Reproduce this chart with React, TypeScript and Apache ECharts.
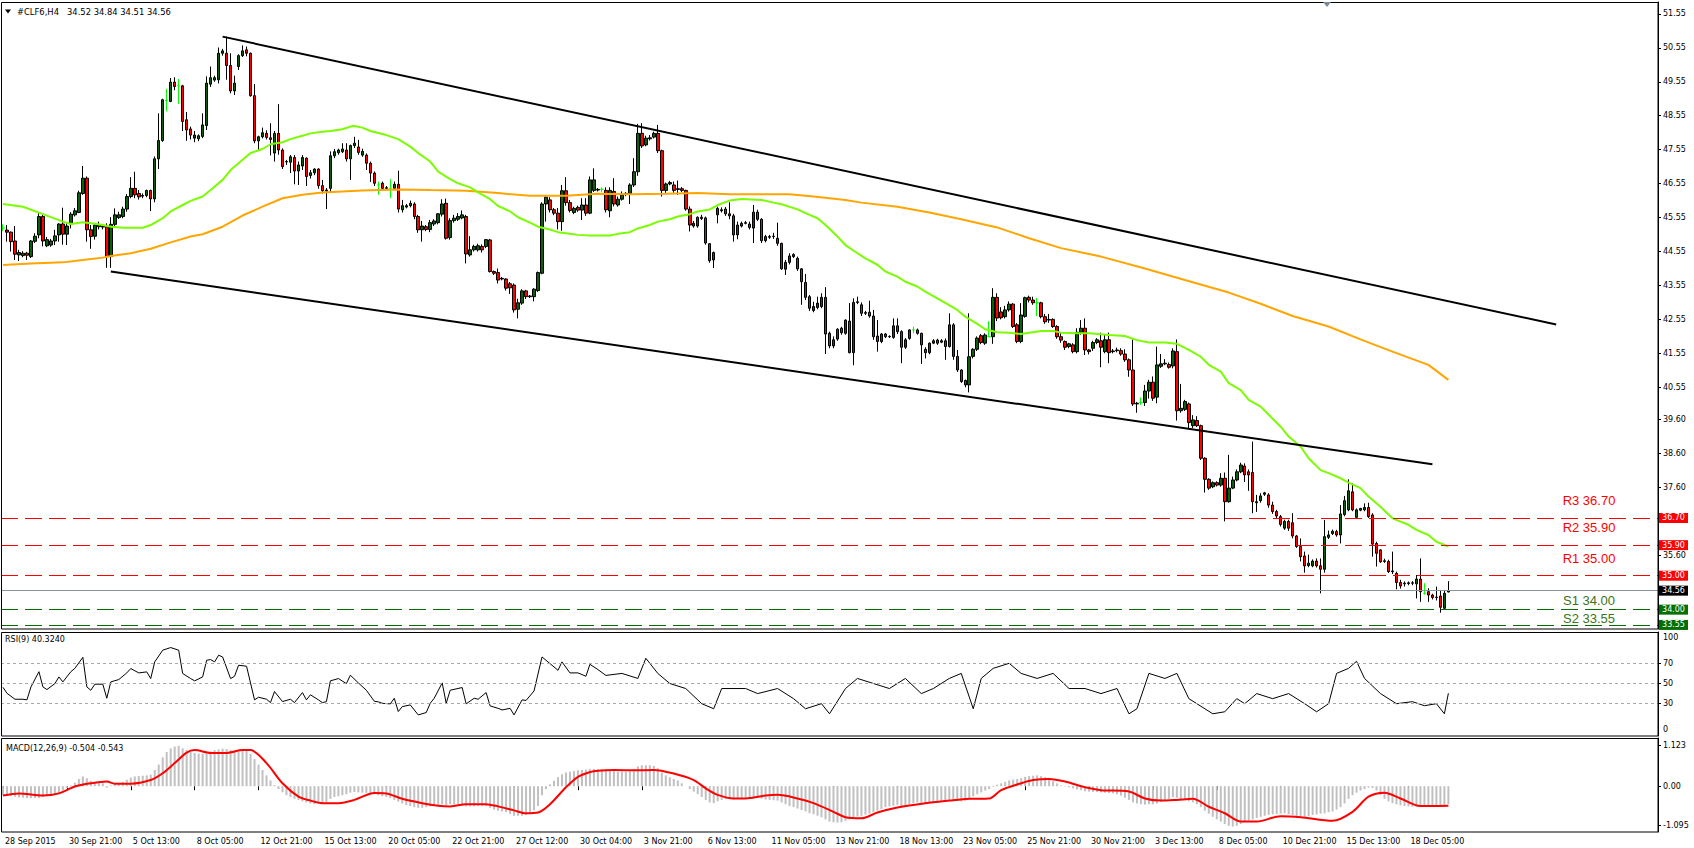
import React, { useEffect, useRef } from 'react';
import * as echarts from 'echarts';

const SLOT_COUNT = 415;
const LABEL_STEP = 16;

const timeLabels = ['28 Sep 2015', '30 Sep 21:00', '5 Oct 13:00', '8 Oct 05:00', '12 Oct 21:00', '15 Oct 13:00', '20 Oct 05:00', '22 Oct 21:00', '27 Oct 12:00', '30 Oct 04:00', '3 Nov 21:00', '6 Nov 13:00', '11 Nov 05:00', '13 Nov 21:00', '18 Nov 13:00', '23 Nov 05:00', '25 Nov 21:00', '30 Nov 21:00', '3 Dec 13:00', '8 Dec 05:00', '10 Dec 21:00', '15 Dec 13:00', '18 Dec 05:00'];

// [open, close, low, high]
const candles: number[][] = [
  [45.24,45.24,45.15,45.35],[45.18,45.12,44.84,45.33],[45.12,44.84,44.55,45.14],[44.86,44.47,44.30,45.30],[44.45,44.52,44.27,44.60],[44.43,44.50,44.38,44.56],[44.50,44.44,44.30,44.54],[44.40,44.86,44.36,44.89],[44.85,45.00,44.80,45.09],[45.04,45.58,44.94,45.68],
  [45.58,44.86,44.70,45.63],[44.72,44.90,44.68,44.98],[44.74,44.86,44.69,44.92],[44.86,45.01,44.74,45.19],[45.04,45.36,44.84,45.38],[45.36,45.06,44.75,45.84],[45.06,45.30,44.74,45.38],[45.36,45.65,45.23,45.71],[45.63,45.75,45.58,45.83],[45.70,46.28,45.68,46.34],
  [46.26,46.71,46.22,47.07],[46.71,45.19,44.84,46.76],[45.19,44.99,44.63,45.33],[45.00,45.33,44.90,45.38],[45.28,45.33,45.20,45.43],[45.30,45.27,45.20,45.36],[45.28,44.40,44.07,45.38],[44.40,45.35,44.07,45.56],[45.35,45.63,45.28,45.82],[45.55,45.63,45.51,45.72],
  [45.58,45.80,45.53,45.87],[45.80,46.17,45.72,46.24],[46.17,46.41,46.12,46.74],[46.41,46.22,46.12,46.90],[46.26,46.16,46.08,46.36],[46.18,46.20,46.12,46.26],[46.20,46.35,46.15,46.37],[46.35,46.10,45.74,46.37],[46.10,47.28,46.00,47.35],[47.28,47.82,46.98,48.62],
  [47.82,49.02,47.78,49.05],[49.00,49.00,48.68,49.34],[48.97,49.54,48.95,49.66],[49.54,49.41,49.30,49.68],[49.43,49.43,48.90,49.63],[49.43,48.38,48.10,49.46],[48.43,48.13,47.81,48.66],[48.16,47.98,47.85,48.23],[47.89,47.98,47.77,48.10],[47.87,47.96,47.80,48.00],
  [47.94,48.28,47.89,48.62],[48.26,49.51,48.13,49.71],[49.48,49.67,49.40,50.00],[49.60,49.67,49.55,49.73],[49.61,50.39,49.50,50.56],[50.39,50.46,50.32,50.52],[50.39,50.03,49.61,50.88],[50.03,49.28,49.21,50.39],[49.28,49.51,49.16,49.73],[50.00,50.32,49.90,50.36],
  [50.32,50.46,50.28,50.62],[50.49,50.39,50.30,50.59],[50.39,49.14,49.11,50.41],[49.14,47.81,47.74,49.48],[47.81,47.93,47.54,47.96],[47.93,48.05,47.88,48.20],[48.03,47.91,47.85,48.12],[47.90,47.85,47.38,48.33],[47.45,48.03,47.20,48.10],[48.03,47.54,47.40,48.89],
  [47.54,47.05,46.98,47.59],[47.19,47.20,47.10,47.25],[47.18,47.34,46.86,47.39],[47.32,46.92,46.53,47.39],[46.92,47.10,46.51,47.20],[47.07,47.32,46.95,47.39],[47.30,46.76,46.48,47.32],[46.79,46.87,46.70,46.95],[46.87,46.98,46.80,47.00],[46.98,46.49,46.40,47.00],
  [46.49,46.34,46.26,46.66],[46.36,46.33,45.80,46.42],[46.41,47.37,46.30,47.50],[47.37,47.49,47.30,47.57],[47.46,47.54,47.40,47.58],[47.49,47.57,47.45,47.74],[47.54,47.28,47.20,47.74],[47.28,47.67,46.66,47.70],[47.67,47.74,47.60,47.93],[47.63,47.47,47.40,47.84],
  [47.39,47.50,47.34,47.58],[47.39,47.15,46.95,47.44],[47.15,46.86,46.60,47.20],[46.86,46.56,46.48,46.91],[46.51,46.51,46.22,46.61],[46.56,46.41,46.35,46.61],[46.41,46.43,46.36,46.48],[46.41,46.41,46.12,46.68],[46.41,46.53,46.36,46.61],[46.53,45.80,45.70,46.93],
  [45.78,45.90,45.70,46.07],[45.86,45.90,45.82,45.95],[45.90,45.97,45.85,46.05],[45.95,45.58,45.50,46.00],[45.58,45.19,45.10,45.63],[45.19,45.30,44.84,45.45],[45.28,45.20,45.15,45.33],[45.20,45.40,45.12,45.48],[45.36,45.45,45.30,45.50],[45.40,45.66,45.35,45.68],
  [45.65,45.95,45.58,46.09],[45.97,44.94,44.90,46.11],[44.96,45.46,44.90,45.53],[45.46,45.53,45.40,45.63],[45.50,45.58,45.45,45.68],[45.54,45.63,45.50,45.76],[45.58,44.48,44.20,45.63],[44.45,44.60,44.40,45.00],[44.60,44.70,44.55,44.75],[44.60,44.72,44.55,44.78],
  [44.70,44.60,44.52,44.76],[44.70,44.90,44.65,44.92],[44.89,43.96,43.93,44.92],[43.96,43.91,43.86,43.99],[43.93,43.71,43.61,44.05],[43.74,43.76,43.70,43.80],[43.74,43.47,43.40,43.76],[43.60,43.48,43.30,43.65],[43.56,42.83,42.75,43.61],[42.85,43.04,42.58,43.16],
  [43.03,43.39,42.98,43.44],[43.39,43.22,43.15,43.42],[43.22,43.24,43.18,43.27],[43.22,43.44,43.08,43.47],[43.40,43.93,43.36,43.96],[43.91,45.95,43.88,46.00],[45.95,46.15,45.43,46.19],[46.07,45.78,45.70,46.15],[45.78,45.68,45.62,45.83],[45.68,45.43,45.20,45.83],
  [45.43,46.34,45.16,46.51],[46.34,45.99,45.90,46.74],[45.99,45.76,45.70,46.07],[45.70,45.82,45.65,45.87],[45.85,45.77,45.72,45.90],[45.77,45.92,45.48,46.12],[45.92,45.68,45.60,46.12],[45.68,46.66,45.65,46.76],[46.35,46.66,46.30,47.00],[46.36,46.38,46.32,46.42],
  [46.38,46.38,46.30,46.44],[46.35,45.78,45.70,46.44],[45.75,46.35,45.56,46.44],[46.32,45.95,45.88,46.71],[45.92,46.09,45.87,46.17],[46.09,46.22,46.05,46.32],[46.24,46.26,46.18,46.30],[46.26,46.51,45.95,46.56],[46.51,46.90,46.45,47.30],[46.90,48.03,46.78,48.31],
  [48.03,47.66,47.60,48.33],[47.69,47.89,47.65,47.96],[47.87,47.90,47.82,47.98],[47.92,48.03,47.88,48.08],[48.03,47.52,47.45,48.28],[47.52,46.35,46.17,47.55],[46.35,46.54,46.28,46.58],[46.54,46.58,46.50,46.63],[46.51,46.35,46.28,46.61],[46.38,46.40,46.22,46.64],
  [46.40,46.35,46.30,46.45],[46.35,45.80,45.75,46.37],[45.80,45.33,45.14,45.88],[45.30,45.38,45.25,45.45],[45.30,45.56,45.25,45.58],[45.52,45.56,45.48,45.63],[45.54,44.80,44.75,45.58],[44.78,44.28,44.22,44.80],[44.30,44.52,44.06,44.55],[45.63,45.82,45.38,45.87],
  [45.75,45.78,45.70,45.85],[45.80,45.66,45.60,45.86],[45.66,45.60,45.50,46.00],[45.60,45.04,44.84,45.66],[45.04,45.33,44.91,45.43],[45.30,45.38,45.26,45.43],[45.38,45.40,45.35,45.45],[45.36,45.26,45.20,45.43],[45.24,45.71,44.80,45.92],[45.71,45.50,45.45,45.78],
  [45.50,44.87,44.80,45.53],[44.87,44.99,44.82,45.04],[44.97,44.99,44.92,45.04],[44.99,45.00,44.92,45.10],[44.94,44.79,44.72,45.40],[44.79,44.04,44.01,44.81],[44.03,44.23,43.86,44.30],[44.23,44.42,44.17,44.50],[44.40,44.46,44.36,44.50],[44.35,44.04,43.98,44.40],
  [44.04,43.66,42.98,44.06],[43.64,43.20,43.12,43.89],[43.22,42.88,42.80,43.27],[42.81,42.93,42.76,43.07],[42.90,43.03,42.85,43.22],[42.93,43.20,42.88,43.32],[43.20,42.12,41.53,43.50],[42.14,41.77,41.70,42.19],[41.77,41.95,41.70,42.05],[41.97,42.26,41.92,42.29],
  [42.29,42.16,42.10,42.33],[42.14,42.53,42.10,42.55],[42.50,41.57,41.55,43.03],[41.57,43.05,41.20,43.17],[43.05,43.07,43.00,43.22],[42.98,42.73,42.65,43.05],[42.73,42.75,42.68,42.80],[42.76,42.65,42.60,43.10],[42.65,42.04,41.95,42.83],[42.06,41.90,41.60,42.53],
  [41.90,42.12,41.85,42.15],[42.12,42.04,42.00,42.15],[42.04,42.05,42.00,42.08],[42.02,42.36,41.98,42.58],[42.36,42.19,42.12,42.58],[42.19,41.73,41.26,42.23],[41.73,41.95,41.68,42.00],[41.99,42.24,41.95,42.26],[42.24,42.24,42.14,42.34],[42.24,42.14,42.10,42.28],
  [42.14,41.80,41.24,42.16],[41.67,41.57,41.40,41.73],[41.57,41.85,41.52,41.87],[41.85,41.92,41.82,41.97],[41.94,41.85,41.80,41.98],[41.88,41.92,41.85,41.97],[41.92,41.75,41.36,41.99],[41.75,42.39,41.72,42.73],[42.39,41.46,41.36,42.44],[41.46,41.06,41.00,41.65],
  [41.06,40.72,40.68,41.08],[40.75,40.62,40.55,40.78],[40.62,41.45,40.40,42.73],[41.46,41.67,41.40,41.70],[41.67,42.00,41.62,42.05],[42.07,41.87,41.82,42.12],[41.85,42.09,41.80,42.14],[42.04,42.04,42.04,42.50],[42.04,43.20,41.83,43.47],[43.20,42.59,42.50,43.32],
  [42.77,42.60,42.55,42.91],[42.63,42.83,42.58,42.95],[42.83,43.00,42.78,43.08],[43.00,42.34,42.30,43.03],[42.39,41.90,41.85,42.44],[41.90,42.68,41.85,43.03],[42.64,43.19,42.60,43.22],[43.20,43.12,43.05,43.25],[43.12,43.04,42.98,43.22],[43.04,43.04,42.65,43.18],
  [43.04,42.63,42.58,43.07],[42.63,42.48,42.42,42.71],[42.53,42.55,42.45,42.71],[42.55,42.34,42.30,42.58],[42.34,42.04,41.98,42.38],[42.04,41.94,41.86,42.14],[41.90,41.73,41.65,41.93],[41.75,41.83,41.70,41.86],[41.80,41.60,41.55,41.85],[41.60,42.17,41.55,42.29],
  [42.17,42.29,42.10,42.53],[42.29,41.65,41.50,42.58],[41.65,41.60,41.52,41.68],[41.70,41.87,41.62,41.92],[41.87,41.95,41.82,42.00],[41.92,41.73,41.14,42.16],[41.60,41.95,41.55,42.10],[41.95,41.57,41.26,42.16],[41.60,41.62,41.55,41.68],[41.63,41.65,41.58,41.72],
  [41.63,41.53,41.48,41.70],[41.53,41.36,41.30,41.67],[41.36,41.06,40.86,41.40],[41.06,40.06,40.00,41.96],[40.06,40.08,39.80,40.12],[40.10,40.10,40.03,40.25],[40.10,40.44,40.00,40.62],[40.44,40.70,40.22,40.77],[40.70,40.23,40.15,40.87],[40.26,41.21,40.08,41.75],
  [41.17,41.24,41.12,41.53],[41.24,41.26,41.20,41.38],[41.22,41.14,41.10,41.28],[41.18,41.62,41.11,41.70],[41.60,39.86,39.57,41.96],[39.86,39.93,39.80,40.65],[39.90,40.13,39.85,40.18],[40.06,39.51,39.34,40.10],[39.42,39.59,39.35,39.73],[39.57,39.42,39.38,39.70],
  [39.42,38.46,38.41,39.45],[38.46,37.84,37.45,38.49],[37.84,37.58,37.53,37.87],[37.62,37.74,37.58,37.78],[37.74,37.67,37.63,37.78],[37.67,37.87,37.62,38.02],[37.87,37.18,36.60,38.04],[37.18,37.58,37.15,38.56],[37.58,37.82,37.55,37.92],[37.82,38.06,37.78,38.13],
  [38.06,38.26,38.02,38.33],[38.23,37.97,37.76,38.31],[38.06,37.97,37.50,38.13],[38.04,37.18,36.84,38.95],[37.18,37.15,36.88,37.38],[37.21,37.35,37.15,37.43],[37.40,37.44,37.35,37.47],[37.38,37.08,37.00,37.43],[37.08,36.89,36.82,37.18],[36.89,36.76,36.70,36.94],
  [36.74,36.51,36.45,36.79],[36.40,36.60,36.35,36.65],[36.60,36.40,36.32,36.65],[36.56,36.17,36.10,36.84],[36.17,35.86,35.82,36.20],[35.86,35.56,35.42,36.10],[35.58,35.29,35.09,35.71],[35.30,35.37,35.25,35.62],[35.29,35.43,35.25,35.48],[35.43,35.29,35.24,35.51],
  [35.29,35.19,34.48,35.51],[35.19,36.15,35.09,36.64],[36.13,36.20,36.08,36.33],[36.24,36.31,36.20,36.36],[36.30,36.20,36.15,36.35],[36.20,36.82,35.95,37.08],[36.80,37.21,36.75,37.35],[36.94,37.50,36.90,37.84],[37.47,36.94,36.90,37.72],[36.72,36.94,36.68,36.98],
  [36.93,36.98,36.90,37.00],[36.94,37.01,36.90,37.13],[37.01,36.74,36.70,37.15],[36.79,35.93,35.56,36.84],[35.95,35.66,35.27,36.00],[35.76,35.41,35.38,35.78],[35.42,35.44,35.38,35.50],[35.42,35.12,35.08,35.47],[35.12,35.14,35.05,35.71],[35.07,34.80,34.60,35.12],
  [34.80,34.70,34.62,34.88],[34.76,34.78,34.68,34.83],[34.77,34.79,34.72,34.83],[34.78,34.79,34.72,34.84],[34.76,34.90,34.33,35.02],[34.90,34.53,34.23,35.51],[34.48,34.48,34.44,34.78],[34.53,34.43,34.23,34.63],[34.43,34.36,34.30,34.47],[34.36,34.37,34.27,34.68],
  [34.40,34.07,33.91,34.58],[34.04,34.48,34.01,34.58],[34.52,34.56,34.51,34.84]
];

// moving averages: [candle index, price]
const maGreen: number[][] = [
  [0,45.95],[5,45.87],[10,45.65],[15,45.43],[17,45.36],[20,45.41],[22,45.38],[25,45.33],[27,45.28],[30,45.25],[35,45.25],[37,45.33],[40,45.53],[42,45.73],[45,45.92],[47,46.04],[50,46.17],[52,46.36],[55,46.66],[57,46.95],[60,47.25],[62,47.45],[65,47.57],[67,47.71],[70,47.77],[72,47.86],[75,47.96],[77,48.03],[80,48.08],[82,48.10],[85,48.15],[87,48.23],[88,48.25],[90,48.20],[92,48.10],[96,47.98],[99,47.86],[102,47.64],[104,47.45],[107,47.20],[109,46.90],[112,46.68],[114,46.56],[117,46.44],[119,46.29],[122,46.09],[124,45.89],[127,45.73],[129,45.56],[132,45.40],[134,45.28],[137,45.20],[139,45.12],[142,45.07],[144,45.04],[147,45.02],[152,45.02],[154,45.07],[157,45.12],[159,45.23],[162,45.33],[164,45.43],[167,45.50],[169,45.58],[172,45.65],[174,45.73],[177,45.79],[179,45.92],[182,46.05],[185,46.10],[190,46.07],[193,45.99],[195,45.94],[199,45.79],[201,45.68],[204,45.53],[206,45.33],[209,44.99],[211,44.74],[214,44.50],[216,44.35],[219,44.16],[221,43.96],[224,43.81],[226,43.66],[229,43.52],[231,43.37],[234,43.17],[236,43.04],[239,42.83],[241,42.63],[244,42.42],[246,42.26],[249,42.17],[252,42.16],[255,42.12],[257,42.16],[260,42.21],[263,42.21],[265,42.16],[269,42.14],[272,42.14],[275,42.11],[277,42.09],[281,42.06],[284,41.94],[287,41.87],[291,41.87],[294,41.83],[297,41.65],[300,41.45],[302,41.21],[305,41.01],[307,40.67],[310,40.47],[312,40.18],[315,39.98],[317,39.74],[320,39.39],[322,39.10],[325,38.80],[327,38.46],[330,38.11],[332,38.02],[335,37.87],[337,37.74],[340,37.58],[342,37.33],[345,37.03],[348,36.69],[352,36.50],[354,36.35],[357,36.20],[359,36.00],[362,35.86]
];
const maOrange: number[][] = [
  [0,44.15],[7,44.20],[15,44.23],[20,44.30],[25,44.37],[27,44.42],[32,44.50],[37,44.63],[42,44.82],[47,44.99],[50,45.06],[55,45.28],[60,45.61],[65,45.87],[70,46.12],[75,46.22],[80,46.29],[85,46.32],[90,46.35],[99,46.38],[107,46.36],[116,46.34],[124,46.27],[132,46.19],[141,46.19],[149,46.25],[157,46.24],[166,46.25],[174,46.27],[182,46.24],[197,46.24],[203,46.17],[211,46.07],[215,45.99],[224,45.87],[232,45.70],[240,45.50],[249,45.26],[257,44.94],[265,44.65],[275,44.40],[286,44.05],[296,43.71],[307,43.34],[315,43.01],[323,42.65],[332,42.34],[340,41.96],[348,41.60],[357,41.21],[362,40.77]
];

const upperChannel: number[][] = [[55, 50.88], [389, 42.40]];
const lowerChannel: number[][] = [[27, 43.96], [358, 38.28]];

const rsiPoints: number[][] = [
  [0,46.2],[1,40.3],[3,34.4],[5,34.4],[6,33.8],[7,46.6],[9,61.7],[10,46.6],[11,44],[13,49.9],[14,56.5],[15,51.6],[17,61.7],[18,65],[20,75.9],[21,46.6],[22,43.3],[23,49.3],[25,49.3],[26,35.4],[27,51.6],[29,53.9],[31,60.5],[32,64.8],[34,60.5],[36,61.5],[37,54.9],[38,71.4],[40,83],[42,85.6],[44,83],[45,59.9],[47,54.9],[48,52.6],[50,56.5],[51,73],[52,73.7],[53,71.4],[54,78],[55,76.3],[57,54.9],[58,57.2],[59,68.1],[61,67.1],[63,33.8],[64,36.4],[66,34.4],[67,31.1],[68,42],[70,32.1],[72,34.4],[73,31.1],[75,41],[76,33.8],[77,38.8],[79,33.8],[80,31.1],[81,32],[82,52.6],[84,54.9],[86,49.9],[87,58.2],[89,50.6],[91,43.3],[93,32.4],[94,31.8],[95,30.4],[97,29.8],[98,35.4],[99,22.2],[100,27.1],[102,28.8],[104,18.9],[106,21.2],[107,30.4],[108,35.4],[110,50.6],[111,30.4],[112,43.3],[115,46],[116,29.8],[118,35.4],[119,34.4],[121,41],[122,27.8],[124,25.4],[125,23.8],[127,25.4],[128,18.9],[130,33.8],[131,33.2],[133,42.6],[135,76.3],[137,69.7],[139,63.1],[140,71.4],[142,60.5],[144,60.5],[146,57.2],[147,69],[149,63.8],
  [151,58],[155,60],[159,55],[161,75],[164,60],[167,50],[171,45],[175,30],[178,25],[180,45],[186,45],[189,40],[194,45],[198,35],[201,25],[205,30],[207,20],[211,45],[214,55],[218,50],[222,45],[226,55],[230,40],[233,45],[237,55],[240,60],[243,25],[245,55],[248,65],[252,70],[255,60],[259,55],[263,60],[267,45],[271,45],[275,40],[279,45],[282,20],[284,25],[287,60],[291,55],[294,60],[297,35],[299,30],[303,20],[306,22],[309,35],[311,30],[314,40],[318,35],[322,40],[326,30],[329,22],[332,30],[334,60],[337,65],[339,72],[341,55],[345,40],[349,30],[353,32],[356,28],[359,30],[361,20],[362,40.32]
];

const macdMain: number[] = [
  -0.25,-0.26,-0.27,-0.29,-0.31,-0.32,-0.33,-0.33,-0.33,-0.33,
  -0.30,-0.28,-0.26,-0.24,-0.20,-0.12,-0.05,0.02,0.10,0.20,
  0.27,0.22,0.15,0.12,0.10,0.08,-0.04,0.02,0.05,0.08,
  0.12,0.18,0.24,0.27,0.28,0.29,0.30,0.32,0.45,0.60,
  0.80,0.95,1.05,1.10,1.12,1.05,1.00,0.96,0.92,0.90,
  0.90,0.92,0.96,1.00,1.02,1.04,1.03,1.00,0.99,1.00,
  1.00,0.98,0.90,0.75,0.60,0.45,0.30,0.16,0.03,-0.08,
  -0.17,-0.25,-0.30,-0.35,-0.38,-0.42,-0.45,-0.48,-0.50,-0.50,
  -0.48,-0.45,-0.35,-0.30,-0.28,-0.25,-0.22,-0.18,-0.16,-0.17,
  -0.18,-0.19,-0.20,-0.22,-0.25,-0.28,-0.30,-0.33,-0.38,-0.43,
  -0.48,-0.52,-0.55,-0.58,-0.60,-0.60,-0.58,-0.56,-0.54,-0.52,
  -0.50,-0.52,-0.50,-0.50,-0.49,-0.50,-0.56,-0.56,-0.56,-0.55,
  -0.55,-0.55,-0.60,-0.65,-0.68,-0.70,-0.72,-0.77,-0.82,-0.82,
  -0.82,-0.80,-0.75,-0.67,-0.55,-0.25,-0.08,0.05,0.15,0.25,
  0.33,0.38,0.40,0.42,0.44,0.45,0.46,0.48,0.48,0.47,
  0.47,0.45,0.44,0.42,0.40,0.40,0.40,0.42,0.48,0.55,
  0.58,0.58,0.58,0.56,0.50,0.38,0.30,0.25,0.20,0.16,
  0.08,0.00,-0.08,-0.15,-0.22,-0.30,-0.38,-0.45,-0.47,-0.42,
  -0.38,-0.36,-0.35,-0.37,-0.36,-0.35,-0.34,-0.34,-0.30,-0.31,
  -0.35,-0.37,-0.38,-0.39,-0.40,-0.45,-0.50,-0.55,-0.58,-0.62,
  -0.66,-0.70,-0.75,-0.78,-0.82,-0.86,-0.92,-0.98,-1.00,-1.01,
  -1.00,-0.96,-0.92,-0.86,-0.84,-0.82,-0.79,-0.76,-0.72,-0.68,
  -0.63,-0.58,-0.56,-0.54,-0.52,-0.55,-0.53,-0.50,-0.47,-0.45,
  -0.46,-0.47,-0.45,-0.43,-0.42,-0.41,-0.40,-0.37,-0.38,-0.40,
  -0.42,-0.40,-0.33,-0.28,-0.22,-0.17,-0.12,-0.08,-0.02,0.04,
  0.08,0.12,0.16,0.18,0.20,0.22,0.26,0.28,0.29,0.30,
  0.28,0.25,0.20,0.14,0.08,0.02,-0.01,-0.03,-0.06,-0.09,
  -0.11,-0.14,-0.15,-0.16,-0.16,-0.17,-0.18,-0.19,-0.20,-0.22,
  -0.26,-0.32,-0.38,-0.45,-0.48,-0.50,-0.51,-0.50,-0.50,-0.48,
  -0.44,-0.40,-0.35,-0.30,-0.32,-0.36,-0.38,-0.42,-0.45,-0.50,
  -0.58,-0.68,-0.76,-0.85,-0.92,-0.98,-1.05,-1.10,-1.12,-1.10,
  -1.05,-1.00,-0.95,-0.92,-0.88,-0.85,-0.82,-0.80,-0.78,-0.77,
  -0.76,-0.75,-0.78,-0.80,-0.83,-0.85,-0.85,-0.83,-0.80,-0.78,
  -0.76,-0.75,-0.72,-0.70,-0.65,-0.58,-0.48,-0.35,-0.25,-0.18,
  -0.12,-0.08,-0.04,-0.05,-0.12,-0.25,-0.35,-0.42,-0.47,-0.50,
  -0.53,-0.55,-0.56,-0.57,-0.58,-0.57,-0.57,-0.56,-0.55,-0.55,
  -0.54,-0.52,-0.50
];

const macdSignal: number[][] = [
  [0,-0.26],[4,-0.20],[10,-0.26],[14,-0.20],[18,-0.01],[22,0.08],[26,0.13],[28,0.07],[32,0.07],[37,0.17],[40,0.36],[43,0.64],[46,0.93],[48,1.0],[52,0.92],[56,0.92],[60,1.0],[62,1.0],[66,0.64],[70,0.08],[74,-0.29],[77,-0.40],[80,-0.47],[84,-0.47],[88,-0.38],[93,-0.19],[96,-0.20],[100,-0.35],[105,-0.47],[109,-0.54],[112,-0.56],[116,-0.50],[121,-0.50],[124,-0.56],[128,-0.67],[131,-0.75],[134,-0.73],[137,-0.50],[141,-0.03],[144,0.26],[147,0.39],[149,0.43],[153,0.45],[158,0.44],[163,0.45],[168,0.35],[173,0.17],[176,-0.06],[179,-0.24],[183,-0.34],[186,-0.34],[191,-0.26],[194,-0.24],[199,-0.34],[203,-0.47],[208,-0.71],[211,-0.86],[215,-0.89],[219,-0.73],[224,-0.59],[231,-0.47],[237,-0.40],[242,-0.35],[247,-0.34],[250,-0.11],[255,0.08],[258,0.17],[262,0.20],[266,0.13],[271,-0.03],[275,-0.11],[282,-0.15],[286,-0.34],[290,-0.40],[294,-0.38],[298,-0.35],[302,-0.57],[306,-0.75],[310,-0.98],[314,-0.98],[320,-0.83],[325,-0.86],[333,-0.96],[338,-0.71],[342,-0.29],[346,-0.18],[350,-0.34],[355,-0.55],[362,-0.54]
];

const priceTicks = [51.55, 50.55, 49.55, 48.55, 47.55, 46.55, 45.55, 44.55, 43.55, 42.55, 41.55, 40.55, 39.60, 38.60, 37.60, 36.60, 35.60, 34.60];
const priceLabels = [51.55, 50.55, 49.55, 48.55, 47.55, 46.55, 45.55, 44.55, 43.55, 42.55, 41.55, 40.55, 39.60, 38.60, 37.60, 35.60];
const rsiLevels = [30, 50, 70];
const macdTicks = [1.123, 0, -1.095];

const levelNames = ['R3', 'R2', 'R1', 'S1', 'S2'];
const levelValues = [36.70, 35.90, 35.00, 34.00, 33.55];
const lastPrice = 34.56;

const headerSymbol = '#CLF6,H4';
const headerQuote = '34.52 34.84 34.51 34.56';
const rsiTitle = 'RSI(9) 40.3240';
const macdTitle = 'MACD(12,26,9) -0.504 -0.543';

const RED = '#ff0000';
const DKGREEN = '#007000';
const AXIS_FONT = 'DejaVu Sans';

export default function App() {
  const ref = useRef<HTMLDivElement>(null);
  useEffect(() => {
    if (!ref.current) return;
    const chart = echarts.init(ref.current, undefined, { renderer: 'svg' });
    const slots = Array.from({ length: SLOT_COUNT }, (_, i) => String(i));
    const showLabel = (idx: number) => idx % LABEL_STEP === 0 && idx / LABEL_STEP < timeLabels.length;
    const isSupport = (name: string) => name.charAt(0) === 'S';

    const hiddenX = (g: number) => ({
      type: 'category', gridIndex: g, data: slots, boundaryGap: true, show: false,
    });

    chart.setOption({
      animation: false,
      backgroundColor: '#ffffff',
      grid: [
        { left: 1, top: 2, width: 1657, height: 627 },
        { left: 1, top: 632, width: 1657, height: 104 },
        { left: 1, top: 738, width: 1657, height: 94 },
      ],
      xAxis: [
        hiddenX(0),
        hiddenX(1),
        {
          type: 'category', gridIndex: 2, data: slots, boundaryGap: true, position: 'bottom',
          axisLine: { show: false },
          axisTick: { show: true, alignWithLabel: true, interval: (idx: number) => showLabel(idx), length: 4, lineStyle: { color: '#000' } },
          axisLabel: {
            interval: (idx: number) => showLabel(idx),
            formatter: (_v: string, idx: number) => timeLabels[Math.round(idx / LABEL_STEP)] ?? '',
            align: 'left', margin: 5, padding: [0, 0, 0, 2],
            color: '#000', fontSize: 8, fontFamily: AXIS_FONT,
          },
          splitLine: { show: false },
        },
      ],
      yAxis: [
        {
          type: 'value', gridIndex: 0, position: 'right', min: 33.43, max: 51.90,
          axisLine: { show: true, lineStyle: { color: '#000' } },
          axisTick: { show: true, length: 3, customValues: priceTicks, lineStyle: { color: '#000' } },
          axisLabel: { customValues: priceLabels, formatter: (v: number) => v.toFixed(2), color: '#000', fontSize: 8, fontFamily: AXIS_FONT, margin: 5 },
          splitLine: { show: false },
        },
        {
          type: 'value', gridIndex: 1, position: 'right', min: -2, max: 101,
          axisLine: { show: true, lineStyle: { color: '#000' } },
          axisTick: { show: true, length: 3, customValues: rsiLevels, lineStyle: { color: '#000' } },
          axisLabel: { customValues: rsiLevels, color: '#000', fontSize: 8, fontFamily: AXIS_FONT, margin: 5 },
          splitLine: { show: false },
        },
        {
          type: 'value', gridIndex: 2, position: 'right', min: -1.27, max: 1.336,
          axisLine: { show: true, lineStyle: { color: '#000' } },
          axisTick: { show: true, length: 3, customValues: macdTicks, lineStyle: { color: '#000' } },
          axisLabel: { customValues: macdTicks, formatter: (v: number) => (v === 0 ? '0.00' : v.toFixed(3)), color: '#000', fontSize: 8, fontFamily: AXIS_FONT, margin: 5 },
          splitLine: { show: false },
        },
      ],
      series: [
        {
          type: 'candlestick', xAxisIndex: 0, yAxisIndex: 0, data: candles, barWidth: 3, z: 3,
          itemStyle: { color: '#0b5e0b', color0: RED, borderColor: '#000', borderColor0: '#000', borderColorDoji: '#00ff00', borderWidth: 1 },
          markLine: {
            silent: true, symbol: ['none', 'none'], label: { show: false }, animation: false,
            data: [
              ...levelValues.map((v, k) => ({
                yAxis: v,
                lineStyle: { color: isSupport(levelNames[k]) ? DKGREEN : RED, width: 1, type: [17, 7] },
              })),
              { yAxis: lastPrice, lineStyle: { color: '#8a949e', width: 1, type: 'solid' } },
            ],
          },
        },
        { type: 'line', xAxisIndex: 0, yAxisIndex: 0, data: maOrange, showSymbol: false, lineStyle: { color: '#ffa500', width: 2 }, z: 4 },
        { type: 'line', xAxisIndex: 0, yAxisIndex: 0, data: maGreen, showSymbol: false, lineStyle: { color: '#7cfc00', width: 2 }, z: 4 },
        { type: 'line', xAxisIndex: 0, yAxisIndex: 0, data: upperChannel, showSymbol: false, lineStyle: { color: '#000', width: 2 }, z: 5 },
        { type: 'line', xAxisIndex: 0, yAxisIndex: 0, data: lowerChannel, showSymbol: false, lineStyle: { color: '#000', width: 2 }, z: 5 },
        {
          type: 'line', xAxisIndex: 1, yAxisIndex: 1, data: rsiPoints, showSymbol: false, lineStyle: { color: '#000', width: 1 }, z: 4,
          markLine: {
            silent: true, symbol: ['none', 'none'], label: { show: false },
            lineStyle: { color: '#a8a8a8', width: 1, type: [3, 3] },
            data: rsiLevels.map((v) => ({ yAxis: v })),
          },
        },
        { type: 'bar', xAxisIndex: 2, yAxisIndex: 2, data: macdMain, barWidth: 2, itemStyle: { color: '#c0c0c0' }, z: 2 },
        { type: 'line', xAxisIndex: 2, yAxisIndex: 2, data: macdSignal, showSymbol: false, smooth: 0.3, lineStyle: { color: RED, width: 2 }, z: 4 },
      ],
    });

    const py = (v: number) => chart.convertToPixel({ yAxisIndex: 0 }, v) as number;
    const frame = (y: number, h: number) => ({
      type: 'rect', silent: true, z: 60,
      shape: { x: 1.5, y: y + 0.5, width: 1656.5, height: h },
      style: { fill: 'none', stroke: '#000', lineWidth: 1 },
    });
    const txt = (x: number, y: number, text: string, extra: any = {}, z = 80) => ({
      type: 'text', silent: true, z, x, y,
      style: { text, fill: '#000', font: `8px "${AXIS_FONT}"`, textVerticalAlign: 'middle', textAlign: 'left', ...extra },
    });
    const boxes: any[] = [];
    const boxAt = (v: number, color: string) => {
      const y = py(v);
      boxes.push({ type: 'rect', silent: true, z: 90, shape: { x: 1659, y: y - 5, width: 29, height: 10 }, style: { fill: color } });
      boxes.push(txt(1673.5, y, v.toFixed(2), { fill: '#ffffff', textAlign: 'center' }, 95));
    };
    levelValues.forEach((v, k) => boxAt(v, isSupport(levelNames[k]) ? DKGREEN : RED));
    boxAt(lastPrice, '#000');

    const levelTexts = levelValues.map((v, k) => {
      const sup = isSupport(levelNames[k]);
      const off = sup ? (k === 3 ? 9 : 6) : 17.5;
      return {
        type: 'text', silent: true, z: 80, x: 1589, y: py(v) - off,
        style: {
          text: `${levelNames[k]} ${v.toFixed(2)}`, fill: sup ? '#3a7418' : RED,
          font: '13px "Liberation Sans"', textAlign: 'center', textVerticalAlign: 'middle',
        },
      };
    });

    chart.setOption({
      graphic: [
        frame(2, 626.5),
        frame(632, 103.5),
        frame(738, 93.5),
        { type: 'polygon', silent: true, z: 80, shape: { points: [[5, 9.5], [11, 9.5], [8, 13.5]] }, style: { fill: '#000' } },
        txt(17, 12, headerSymbol, { font: `8.4px "${AXIS_FONT}"` }),
        txt(67, 12, headerQuote, { font: `8.4px "${AXIS_FONT}"` }),
        { type: 'polygon', silent: true, z: 80, shape: { points: [[1323, 2], [1331, 2], [1327, 7]] }, style: { fill: '#7d8b99' } },
        txt(5, 639, rsiTitle),
        txt(6, 748, macdTitle),
        txt(1663, 637.5, '100'),
        txt(1663, 729.5, '0'),
        ...levelTexts,
        ...boxes,
      ],
    });

    return () => chart.dispose();
  }, []);

  return (
    <div
      ref={ref}
      style={{ position: 'fixed', left: 0, top: 0, width: 1694, height: 848, background: '#fff' }}
    />
  );
}
